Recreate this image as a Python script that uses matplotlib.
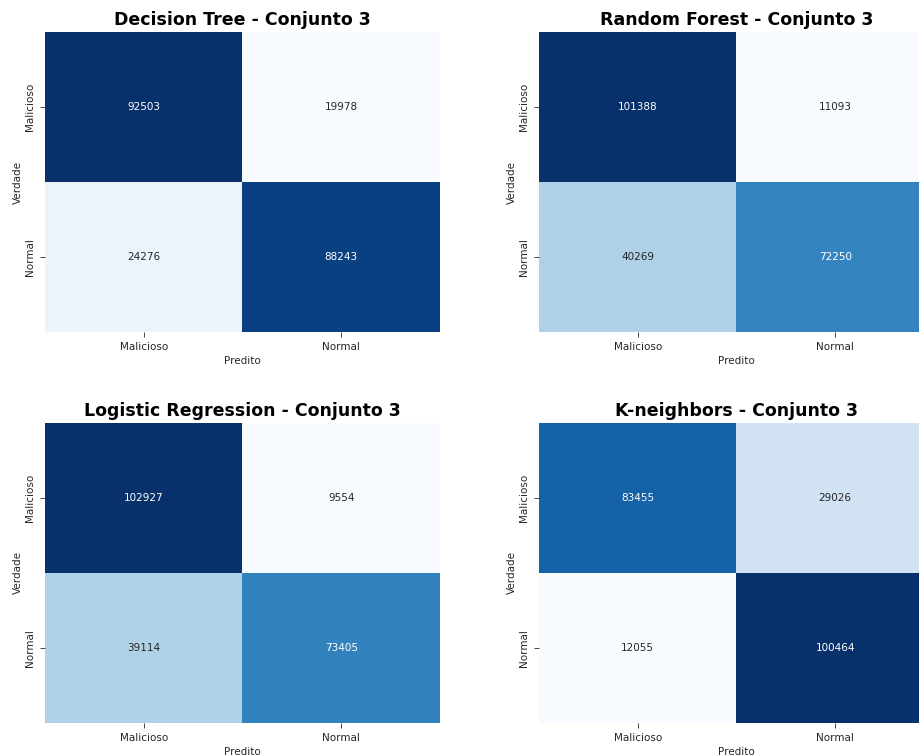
import matplotlib
matplotlib.use("Agg")
import matplotlib.pyplot as plt
import numpy as np
import seaborn as sns

plt.rcParams['font.family'] = ['DejaVu Sans']
plt.rcParams['text.color'] = '0.15'
plt.rcParams['axes.labelcolor'] = '0.15'
plt.rcParams['xtick.color'] = '0.15'
plt.rcParams['ytick.color'] = '0.15'

labels = ["Malicioso", "Normal"]
titles = [
    "Decision Tree - Conjunto 3",
    "Random Forest - Conjunto 3",
    "Logistic Regression - Conjunto 3",
    "K-neighbors - Conjunto 3",
]
cm_decision_tree = [[92503, 19978], [24276, 88243]]
cm_random_forest = [[101388, 11093], [40269, 72250]]
cm_logistic = [[102927, 9554], [39114, 73405]]
cm_knn = [[83455, 29026], [12055, 100464]]
matrices = [cm_decision_tree, cm_random_forest, cm_logistic, cm_knn]

W, H = 920, 756
fig = plt.figure(figsize=(W / 100, H / 100), dpi=100)

# axes boxes in pixels: (left, top); each panel is aw x ah pixels
boxes = [(45, 32), (539, 32), (45, 423), (539, 423)]
aw, ah = 395, 300

for (x0, y0), cm, title in zip(boxes, matrices, titles):
    ax = fig.add_axes([x0 / W, (H - y0 - ah) / H, aw / W, ah / H])
    sns.heatmap(np.array(cm), annot=True, fmt="d", cmap="Blues", cbar=False,
                xticklabels=labels, yticklabels=labels, ax=ax,
                annot_kws={"fontsize": 7.5})
    ax.set_title(title, fontsize=12.5, fontweight="bold", pad=5, color="black")
    ax.set_xlabel("Predito", fontsize=7.5, labelpad=3)
    ax.set_ylabel("Verdade", fontsize=7.5, labelpad=2)
    ax.tick_params(labelsize=7.5, length=3.5, width=0.6, pad=3.5)

fig.savefig("out.png", dpi=100)
